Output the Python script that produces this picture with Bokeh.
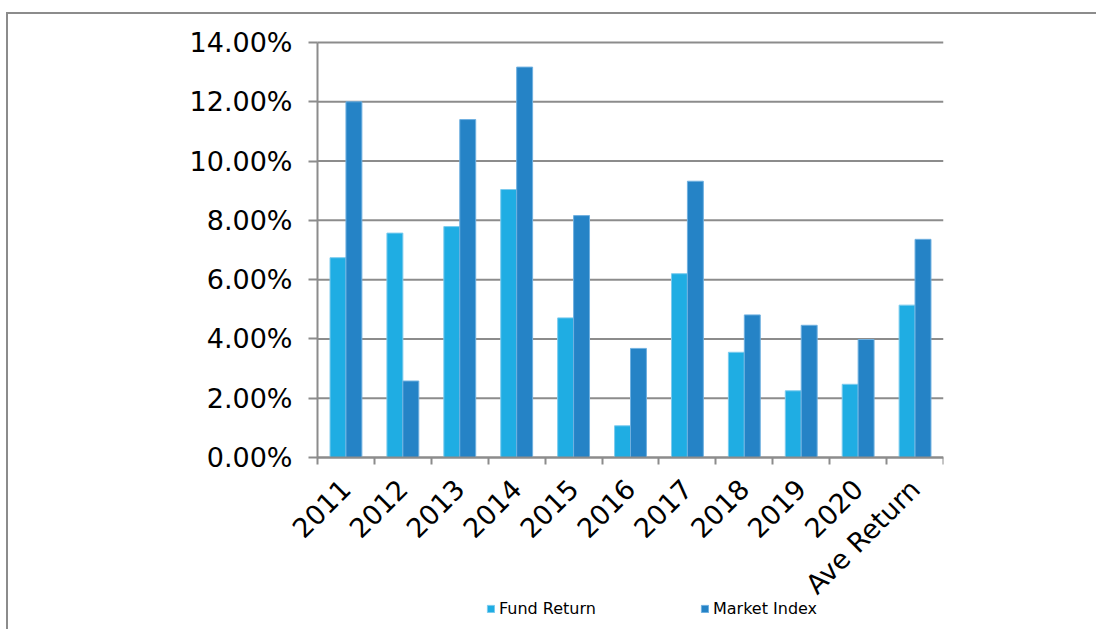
import math
from bokeh.plotting import figure
from bokeh.models import (ColumnDataSource, Range1d, FixedTicker, NumeralTickFormatter,
                          Legend, LegendItem)
from bokeh.embed import file_html
from bokeh.resources import INLINE

categories = ["2011", "2012", "2013", "2014", "2015", "2016", "2017", "2018", "2019", "2020", "Ave Return"]
fund_return = [0.0674, 0.0757, 0.0779, 0.0904, 0.0471, 0.0107, 0.0620, 0.0355, 0.0225, 0.0247, 0.0514]
market_index = [0.1200, 0.0258, 0.1140, 0.1317, 0.0816, 0.0368, 0.0932, 0.0481, 0.0446, 0.0398, 0.0736]
y_ticks = [0.0, 0.02, 0.04, 0.06, 0.08, 0.10, 0.12, 0.14]

FUND_COLOR = "#1FADE3"
MARKET_COLOR = "#2583C6"
GRAY = "#8C8C8C"
FONT = "DejaVu Sans"

n = len(categories)
centers = [i + 0.5 for i in range(n)]
bw = 0.28
src = ColumnDataSource(dict(
    xf=[c - bw / 2 for c in centers],
    xm=[c + bw / 2 for c in centers],
    fund=fund_return,
    market=market_index,
))
grid_src = ColumnDataSource(dict(y=y_ticks, x0=[0] * len(y_ticks), x1=[n] * len(y_ticks)))

# the frame extends beyond the data area so axis labels and legend are not clipped
DATA_W, DATA_H = 626, 415
LEFT_PAD_PX, TOP_PAD_PX, BOTTOM_PAD_PX = 298, 18, 172
Y_MAX = y_ticks[-1]
px_per_y = DATA_H / Y_MAX
X_START = -LEFT_PAD_PX / DATA_W * n
p = figure(frame_width=DATA_W + LEFT_PAD_PX, frame_height=DATA_H + TOP_PAD_PX + BOTTOM_PAD_PX,
           output_backend="svg", toolbar_location=None,
           x_range=Range1d(X_START, n),
           y_range=Range1d(-BOTTOM_PAD_PX / px_per_y, Y_MAX + TOP_PAD_PX / px_per_y),
           min_border_left=11, min_border_right=153, min_border_top=28 - TOP_PAD_PX, min_border_bottom=0)
p.styles = {"border-top": "2px solid #8C8C8C", "border-left": "2px solid #8C8C8C",
            "margin-top": "12px", "margin-left": "6px", "box-sizing": "border-box"}
p.outline_line_color = None
p.background_fill_color = "white"
p.xgrid.grid_line_color = None
p.ygrid.grid_line_color = None

# horizontal gridlines across the data area
p.segment(x0="x0", x1="x1", y0="y", y1="y", source=grid_src, line_color=GRAY, line_width=2)

r1 = p.vbar(x="xf", top="fund", width=bw, bottom=0, source=src,
            fill_color=FUND_COLOR, line_color="#7CCBEE", line_width=1)
r2 = p.vbar(x="xm", top="market", width=bw, bottom=0, source=src,
            fill_color=MARKET_COLOR, line_color="#6FB0E0", line_width=1)

# y axis, drawn at x = 0
p.yaxis.fixed_location = 0
p.yaxis.ticker = FixedTicker(ticks=y_ticks)
p.yaxis.bounds = (0, Y_MAX)
p.yaxis.formatter = NumeralTickFormatter(format="0.00%")
p.yaxis.major_label_text_font = FONT
p.yaxis.major_label_text_font_size = "27px"
p.yaxis.major_label_text_color = "black"
p.yaxis.axis_line_color = GRAY
p.yaxis.axis_line_width = 2
p.yaxis.major_tick_line_color = GRAY
p.yaxis.major_tick_line_width = 2
p.yaxis.major_tick_out = 9
p.yaxis.major_tick_in = 0
p.yaxis.minor_tick_line_color = None
p.yaxis.major_label_standoff = 16

# x axis, drawn at y = 0
p.xaxis.fixed_location = 0
p.xaxis.bounds = (0, n)
p.xaxis.ticker = FixedTicker(ticks=centers, minor_ticks=list(range(n + 1)))
p.xaxis.major_label_overrides = {c: cat for c, cat in zip(centers, categories)}
p.xaxis.major_label_orientation = math.pi / 4
p.xaxis.major_label_text_font = FONT
p.xaxis.major_label_text_font_size = "27px"
p.xaxis.major_label_text_color = "black"
p.xaxis.axis_line_color = GRAY
p.xaxis.axis_line_width = 2
p.xaxis.major_tick_line_color = None
p.xaxis.major_tick_out = 0
p.xaxis.major_tick_in = 0
p.xaxis.minor_tick_line_color = GRAY
p.xaxis.minor_tick_line_width = 2
p.xaxis.minor_tick_out = 7
p.xaxis.minor_tick_in = 0
p.xaxis.major_label_standoff = 20

legend = Legend(items=[LegendItem(label="Fund Return", renderers=[r1]),
                       LegendItem(label="Market Index", renderers=[r2])],
                orientation="horizontal", location=(169 + LEFT_PAD_PX, 11),
                label_text_font=FONT, label_text_font_size="16px", label_text_color="black",
                glyph_width=9, glyph_height=9, label_standoff=4, spacing=104,
                padding=0, margin=0, border_line_color=None, background_fill_alpha=0)
p.add_layout(legend, "center")

open("out.html", "w").write(file_html(p, INLINE))
